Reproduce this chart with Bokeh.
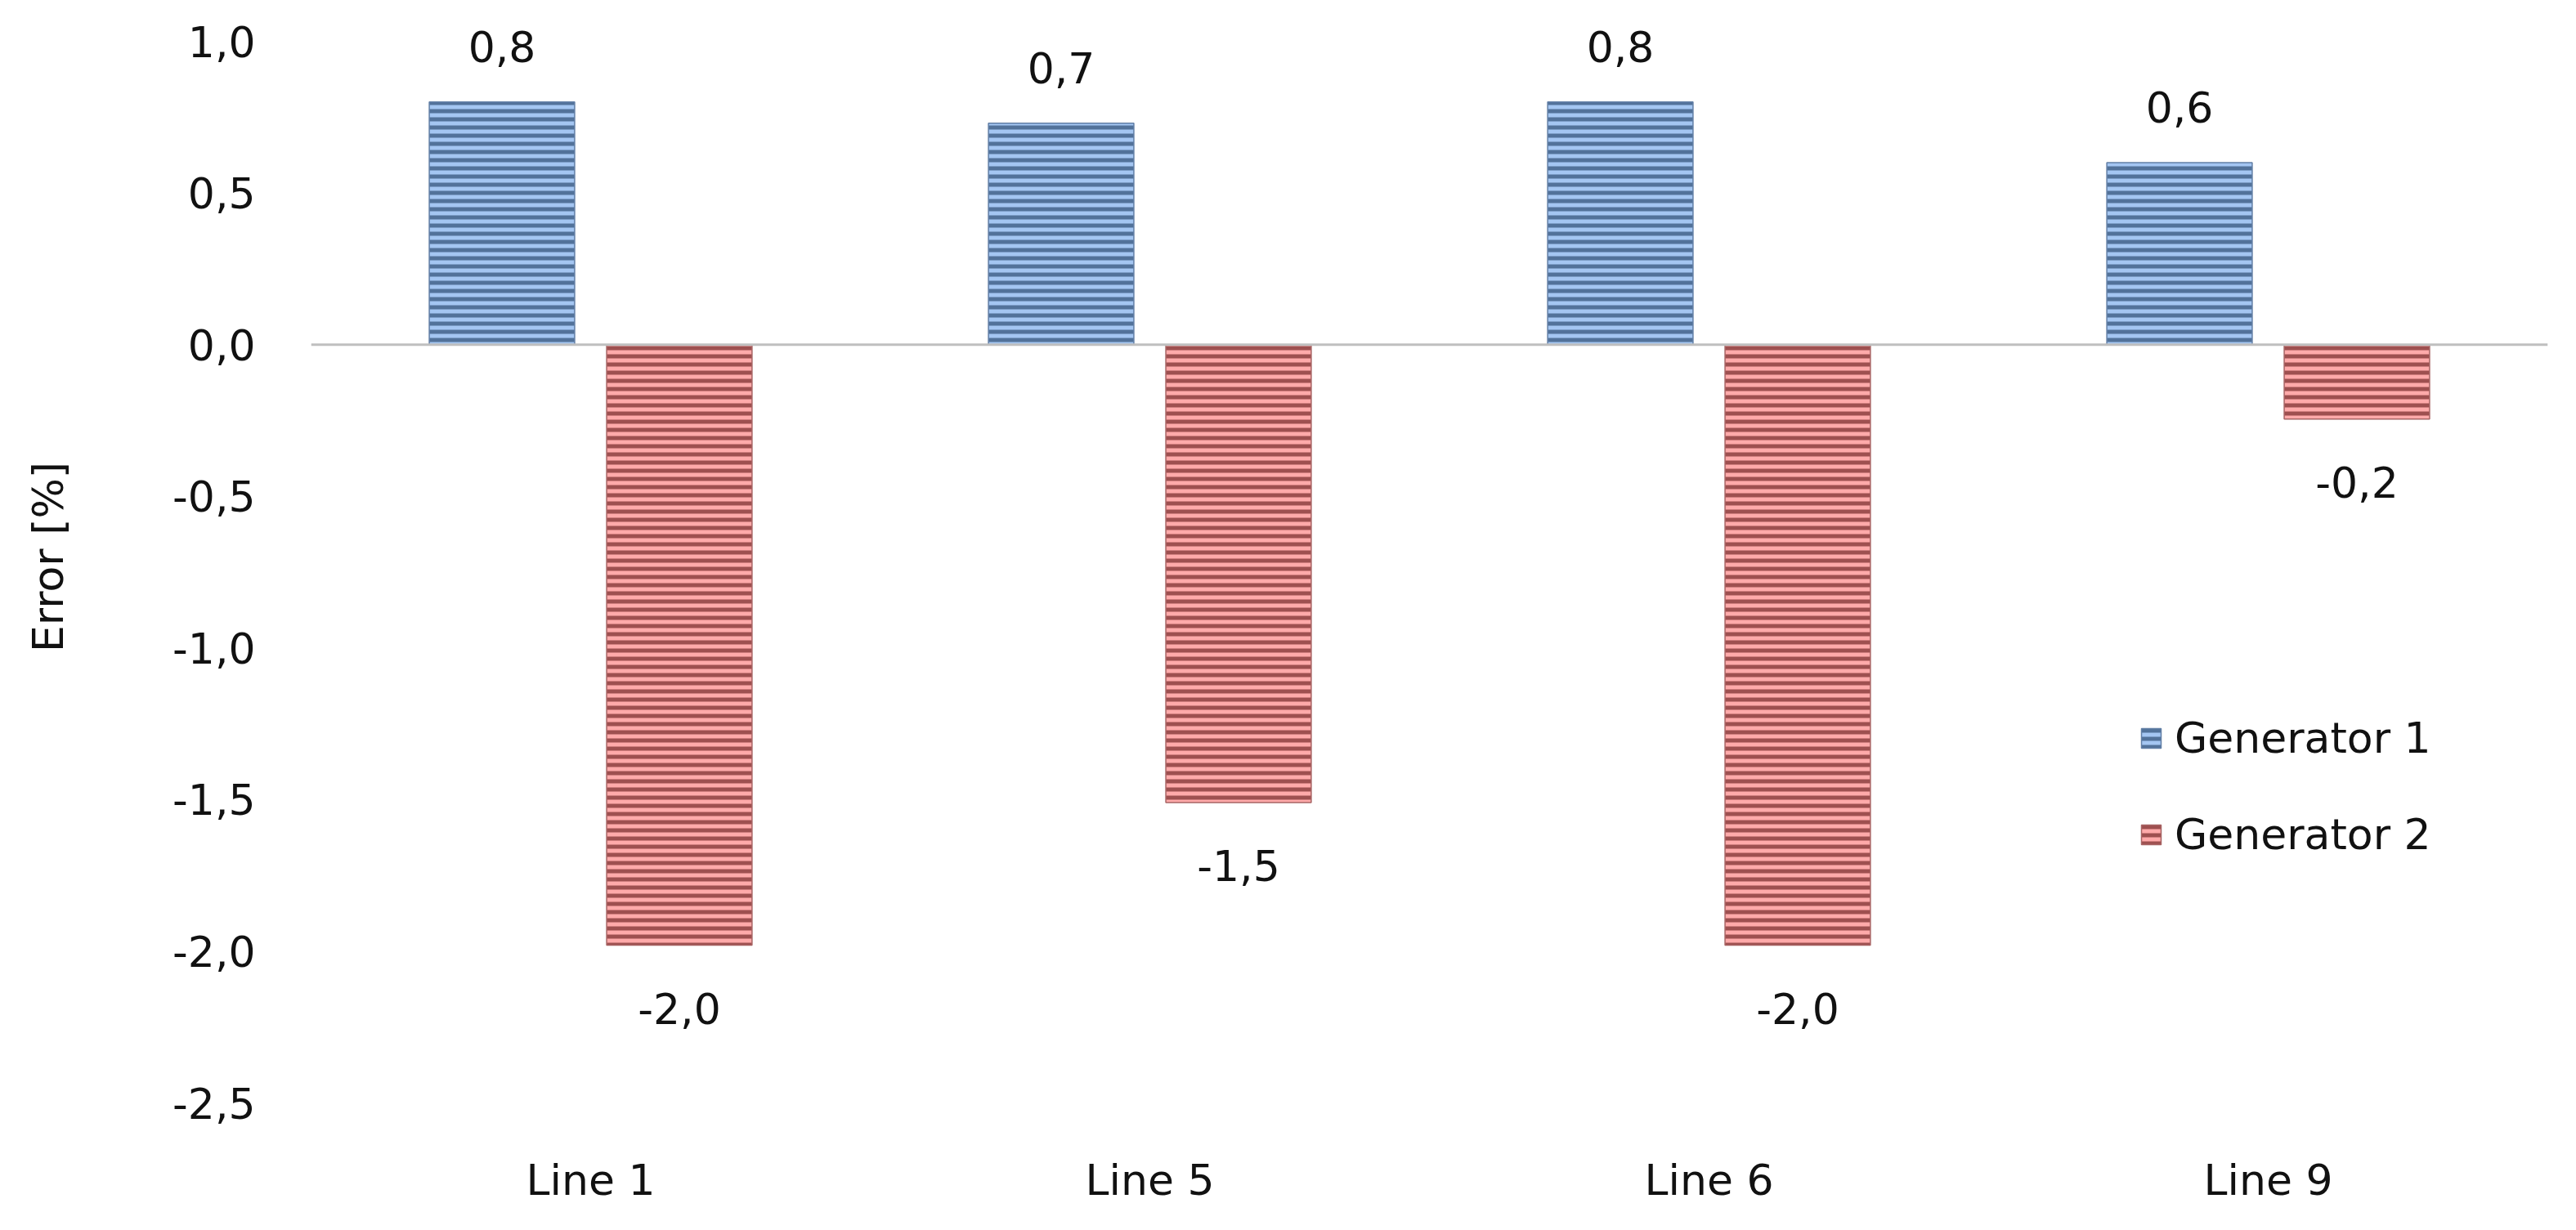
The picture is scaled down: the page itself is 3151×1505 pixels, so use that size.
from bokeh.plotting import figure
from bokeh.models import (ColumnDataSource, FactorRange, Span, Legend, LegendItem,
                          FixedTicker, CustomJSTickFormatter)
from bokeh.transform import dodge
from bokeh.core.properties import value
from bokeh.embed import file_html
from bokeh.resources import INLINE

# ---- data ----
categories = ["Line 1", "Line 5", "Line 6", "Line 9"]
generator_1 = [0.80, 0.73, 0.80, 0.60]
generator_2 = [-1.98, -1.51, -1.98, -0.245]
series_names = ["Generator 1", "Generator 2"]
y_ticks = [-2.5, -2.0, -1.5, -1.0, -0.5, 0.0, 0.5, 1.0]
y_title = "Error [%]"

FONT = "DejaVu Sans"
FS = "52px"
TXT = "#111111"

def fmt(v):
    return f"{v:.1f}".replace(".", ",")

src = ColumnDataSource(dict(
    cat=categories,
    g1=generator_1,
    g2=generator_2,
    g1_lbl=[fmt(v) for v in generator_1],
    g2_lbl=[fmt(v) for v in generator_2],
))

p = figure(x_range=FactorRange(*categories), y_range=(-2.5, 1.1),
           width=3135, height=1489, output_backend="svg", toolbar_location=None,
           min_border_left=380, min_border_right=19, min_border_top=13,
           min_border_bottom=140)
p.outline_line_color = None
p.background_fill_color = "white"
p.border_fill_color = "white"
p.xgrid.grid_line_color = None
p.ygrid.grid_line_color = None

OFF = 0.1586
W = 0.26

r1 = p.vbar(x=dodge("cat", -OFF, range=p.x_range), top="g1", bottom=0, width=W,
            source=src, fill_color="#a4c6f2", line_color="#627fa6", line_width=1.5,
            hatch_pattern="horizontal_line", hatch_color="#52729a",
            hatch_scale=10, hatch_weight=5)
r2 = p.vbar(x=dodge("cat", OFF, range=p.x_range), top="g2", bottom=0, width=W,
            source=src, fill_color="#ffaaaa", line_color="#a86464", line_width=1.5,
            hatch_pattern="horizontal_line", hatch_color="#9e5050",
            hatch_scale=10, hatch_weight=5)

# zero line
p.add_layout(Span(location=0, dimension="width", line_color="#bfbfbf", line_width=3))

# data labels
p.text(x=dodge("cat", -OFF, range=p.x_range), y="g1", text="g1_lbl", source=src,
       text_align="center", text_baseline="middle", y_offset=-68,
       text_font=value(FONT), text_font_size=FS, text_color=TXT)
p.text(x=dodge("cat", OFF, range=p.x_range), y="g2", text="g2_lbl", source=src,
       text_align="center", text_baseline="middle", y_offset=77,
       text_font=value(FONT), text_font_size=FS, text_color=TXT)

# axes
p.yaxis.ticker = FixedTicker(ticks=y_ticks)
p.yaxis.formatter = CustomJSTickFormatter(code="return tick.toFixed(1).replace('.', ',');")
p.yaxis.axis_line_color = None
p.yaxis.major_tick_line_color = None
p.yaxis.minor_tick_line_color = None
p.yaxis.major_tick_out = 0
p.yaxis.major_label_standoff = 68
p.yaxis.major_label_text_font = FONT
p.yaxis.major_label_text_font_size = FS
p.yaxis.major_label_text_color = TXT
p.yaxis.axis_label = y_title
p.yaxis.axis_label_text_font = FONT
p.yaxis.axis_label_text_font_size = FS
p.yaxis.axis_label_text_font_style = "normal"
p.yaxis.axis_label_text_color = TXT
p.yaxis.axis_label_standoff = 119

p.xaxis.axis_line_color = None
p.xaxis.major_tick_line_color = None
p.xaxis.major_tick_out = 0
p.xaxis.major_label_standoff = 64
p.xaxis.major_label_text_font = FONT
p.xaxis.major_label_text_font_size = FS
p.xaxis.major_label_text_color = TXT

legend = Legend(items=[LegendItem(label=series_names[0], renderers=[r1]),
                       LegendItem(label=series_names[1], renderers=[r2])],
                location=(2236, 298), orientation="vertical",
                padding=0, margin=0, spacing=58,
                glyph_width=30, glyph_height=30, label_standoff=14,
                label_text_font=FONT, label_text_font_size=FS, label_text_color=TXT,
                border_line_alpha=0, background_fill_alpha=0)
p.add_layout(legend, "center")

open("out.html", "w").write(file_html(p, INLINE))
